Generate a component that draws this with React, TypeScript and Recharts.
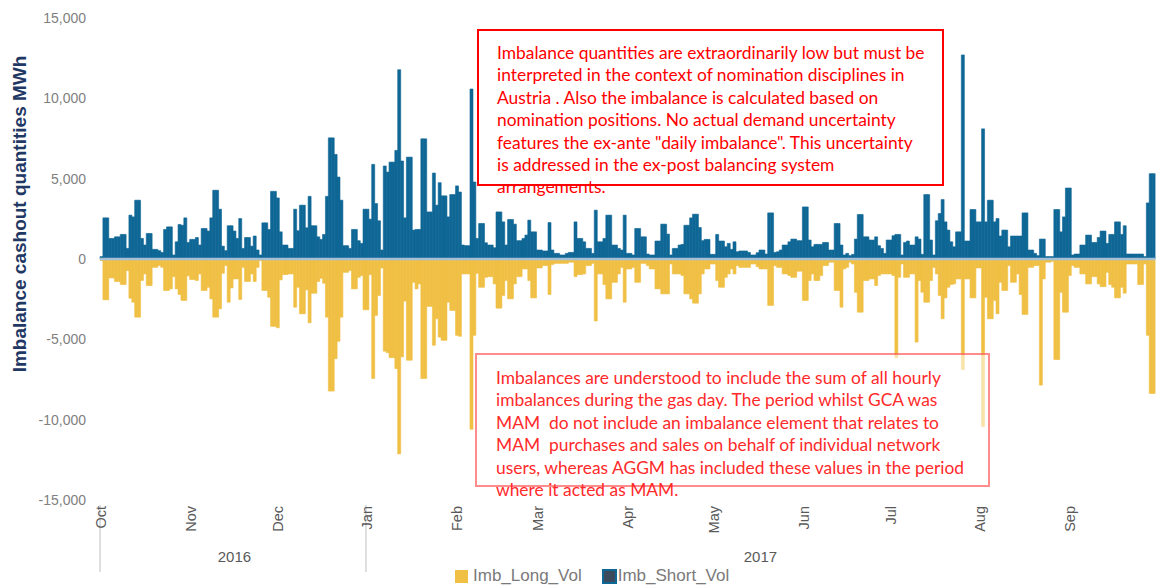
import React from "react";
import { BarChart, Bar, XAxis, YAxis, ReferenceLine } from "recharts";

// daily values, 1 Oct 2016 .. 30 Sep 2017 (MWh)
const SHORT_VOL = [
  // Oct
  150, 2560, 2560, 1280, 1280, 1380, 1380, 1530, 1530, 660, 2730, 2620, 3660, 3660, 1280, 870,
  1590, 1590, 600, 600, 520, 410, 1840, 2000, 2000, 250, 1070, 2150, 2100, 2560, 1030,
  // Nov
  1220, 1220, 1340, 870, 1900, 1900, 1740, 2560, 4280, 4280, 3100, 800, 520, 2070, 2070,
  1740, 1280, 2520, 660, 1340, 1340, 800, 1430, 560, 250, 2250, 2250, 1840, 4210, 4210,
  // Dec
  3800, 1690, 870, 870, 660, 660, 3100, 1760, 3350, 3350, 1940, 3900, 2070, 2070, 1380, 1220,
  1530, 3900, 7540, 7540, 6510, 5100, 3660, 830, 830, 660, 1840, 1840, 1140, 970, 3100,
  // Jan
  3100, 2480, 5890, 3450, 2380, 560, 5790, 5410, 6030, 6030, 6760, 11780, 6100, 2560, 6340, 6340,
  1800, 1840, 1840, 7480, 7480, 2930, 2930, 5350, 3350, 4750, 3930, 3930, 2620, 4010, 4010,
  // Feb
  4550, 4170, 870, 830, 830, 10580, 4790, 1280, 2210, 2210, 1010, 870, 870, 700,
  2930, 2930, 2310, 870, 2460, 2460, 2170, 1140, 1140, 1280, 1490, 2420, 1690, 1690,
  // Mar
  560, 560, 500, 500, 2270, 560, 350, 350, 250, 250, 350, 410, 410, 2310, 1280, 1280,
  1070, 660, 660, 350, 3040, 1070, 1070, 1280, 2730, 2730, 870, 870, 660, 560, 2730,
  // Apr
  350, 350, 250, 1900, 1900, 1380, 1380, 310, 250, 250, 1120, 1120, 2170, 2170, 1550,
  250, 660, 660, 870, 910, 2100, 2100, 2560, 2790, 2790, 1960, 1140, 1220, 1220, 290,
  // May
  290, 1530, 1120, 1120, 760, 970, 600, 1070, 450, 500, 500, 500, 410, 250, 250, 390,
  560, 560, 310, 2870, 2870, 410, 450, 560, 870, 870, 1070, 1240, 1240, 1140, 1140,
  // Jun
  3240, 3240, 1180, 760, 910, 910, 910, 1030, 1030, 560, 560, 2210, 2210, 870, 250,
  350, 210, 290, 1240, 2770, 2770, 1380, 1380, 1180, 1180, 1380, 830, 660, 350, 1180,
  // Jul
  1180, 1450, 1530, 1530, 250, 1030, 1120, 870, 870, 1380, 1240, 290, 4010, 4010, 1180, 250,
  2380, 2830, 3700, 2310, 1800, 1070, 760, 1690, 1690, 12700, 1120, 1120, 3080, 3080, 2310,
  // Aug
  2310, 8100, 2310, 3660, 3660, 2310, 2520, 1430, 1800, 1800, 760, 1430, 1430, 1430, 1430, 2870,
  2870, 560, 560, 350, 210, 1240, 1240, 150, 150, 150, 3080, 3080, 1690, 2620, 4420,
  // Sep
  4420, 250, 310, 310, 870, 870, 1490, 1490, 1030, 1030, 1340, 1740, 1740, 970, 1530,
  1530, 2310, 2310, 1530, 2070, 310, 310, 310, 310, 310, 310, 150, 3490, 5310, 5310,
];

const LONG_VOL = [
  // Oct
  -100, -2540, -2540, -1180, -1180, -1400, -1400, -1590, -1590, -720, -2440, -2690, -3620, -3620, -1340, -930,
  -1650, -1650, -520, -520, -410, -520, -1960, -1960, -1860, -1100, -1860, -2210, -2580, -2580, -1050,
  // Nov
  -1280, -1280, -1340, -930, -1960, -1960, -1760, -2480, -3620, -3620, -3100, -890, -410, -2690, -1800,
  -1240, -1240, -2520, -520, -1400, -1400, -930, -1400, -520, -100, -1960, -1960, -2380, -4190, -4190,
  // Dec
  -4280, -1300, -970, -970, -930, -930, -3000, -1760, -3410, -3410, -1920, -3970, -2130, -2130, -1400, -1200,
  -1510, -3620, -8220, -8220, -6200, -5120, -3620, -830, -830, -720, -1860, -1860, -1140, -1030, -3160,
  // Jan
  -3160, -970, -7440, -3510, -2270, -560, -5740, -5830, -6140, -6140, -6820, -12130, -6090, -2620, -6300, -6300,
  -1450, -1860, -1550, -7440, -7440, -2950, -2950, -5370, -3720, -4860, -5060, -5060, -2690, -3200, -3200,
  // Feb
  -4750, -4810, -930, -930, -930, -10600, -4750, -890, -1760, -1760, -1140, -1100, -1100, -1550,
  -3060, -3060, -2270, -1340, -2480, -2480, -1550, -1100, -1100, -620, -620, -1340, -2420, -2420,
  // Mar
  -560, -560, -410, -410, -2210, -350, -270, -270, -270, -270, -270, -200, -200, -1100, -970, -970,
  -930, -410, -410, -270, -3860, -930, -930, -1590, -2480, -2480, -1450, -1450, -930, -520, -2690,
  // Apr
  -620, -620, -520, -1450, -1450, -270, -270, -410, -620, -620, -1860, -1860, -2170, -2170, -2170,
  -310, -930, -930, -930, -1030, -2170, -2170, -2480, -2750, -2750, -2170, -930, -620, -620, -310,
  // May
  -310, -1340, -1760, -1760, -1140, -930, -620, -930, -410, -520, -520, -520, -520, -310, -310, -480,
  -620, -620, -620, -2890, -2890, -410, -520, -520, -930, -930, -1030, -1140, -1140, -760, -760,
  // Jun
  -2580, -2580, -1340, -930, -1340, -1340, -1030, -410, -410, -200, -200, -1960, -1960, -3000, -620,
  -520, -200, -310, -2070, -3310, -3310, -1340, -1340, -1240, -1240, -1650, -1030, -930, -930, -930,
  // Jul
  -930, -1030, -6140, -1140, -310, -1140, -1140, -930, -930, -5170, -1340, -2070, -2690, -2690, -1340, -520,
  -930, -2270, -3720, -2420, -1760, -1590, -1550, -1240, -1240, -6880, -1240, -1240, -2420, -2420, -560,
  // Aug
  -560, -10430, -2380, -3720, -3720, -2580, -3410, -1450, -1960, -1960, -410, -1450, -1450, -930, -2210, -3450,
  -3450, -520, -520, -410, -410, -7850, -1240, -200, -200, -140, -6260, -6260, -2070, -3310, -3310,
  // Sep
  -1030, -410, -520, -520, -930, -930, -1550, -1550, -1100, -1100, -1550, -1720, -1720, -830, -1590,
  -1760, -2420, -2420, -1760, -2130, -310, -310, -310, -310, -1590, -1590, -310, -4750, -8370, -8370,
];

const Y_TICKS = [-15000, -10000, -5000, 0, 5000, 10000, 15000];
const MONTH_NAMES = ["Jan", "Feb", "Mar", "Apr", "May", "Jun", "Jul", "Aug", "Sep", "Oct", "Nov", "Dec"];
const YEAR_SEPARATORS = ["2016-10-01", "2017-01-01"];
const YEAR_LABELS: Record<string, string> = { "2016-11-16": "2016", "2017-05-17": "2017" };

const NOTE_TOP = [
  "Imbalance quantities are extraordinarily low but must be",
  "interpreted in the context of nomination disciplines in",
  "Austria . Also the imbalance is calculated based on",
  "nomination positions. No actual demand uncertainty",
  "features the ex-ante \"daily imbalance\". This uncertainty",
  "is addressed in the ex-post balancing system",
  "arrangements.",
];
const NOTE_BOTTOM = [
  "Imbalances are understood to include the sum of all hourly",
  "imbalances during the gas day. The period whilst GCA was",
  "MAM  do not include an imbalance element that relates to",
  "MAM  purchases and sales on behalf of individual network",
  "users, whereas AGGM has included these values in the period",
  "where it acted as MAM.",
];

const LONG_COLOR = "#f0c045";
const SHORT_COLOR = "#0f6796";

const START = Date.UTC(2016, 9, 1);
const data = SHORT_VOL.map((s, i) => ({
  date: new Date(START + i * 86400000).toISOString().slice(0, 10),
  Imb_Long_Vol: LONG_VOL[i],
  Imb_Short_Vol: s,
}));

function DayTick({ x, y, payload }: any) {
  const v: string = payload.value;
  const [, mm, dd] = v.split("-");
  return (
    <g>
      {YEAR_SEPARATORS.includes(v) && (
        <line x1={x - 1.4} x2={x - 1.4} y1={y + 5} y2={y + 72} stroke="#bfbfbf" strokeWidth={1} />
      )}
      {dd === "01" && (
        <text
          x={x}
          y={y + 6}
          transform={`rotate(-90 ${x} ${y + 6})`}
          textAnchor="end"
          dominantBaseline="central"
          fontSize={14.5}
          fontFamily="Liberation Sans, Arial, sans-serif"
          fill="#595959"
        >
          {MONTH_NAMES[Number(mm) - 1]}
        </text>
      )}
      {YEAR_LABELS[v] && (
        <text x={x} y={y + 62} textAnchor="middle" fontSize={15} fontFamily="Liberation Sans, Arial, sans-serif" fill="#595959">
          {YEAR_LABELS[v]}
        </text>
      )}
    </g>
  );
}

function ValueTick({ y, payload }: any) {
  return (
    <text x={86} y={y} textAnchor="end" dominantBaseline="central" fontSize={14} fontFamily="Liberation Sans, Arial, sans-serif" fill="#7f7f7f">
      {Number(payload.value).toLocaleString("en-US")}
    </text>
  );
}

const noteText: React.CSSProperties = {
  position: "absolute",
  fontFamily: "Lato, sans-serif",
  fontSize: 17.4,
  lineHeight: "22.4px",
  whiteSpace: "pre",
};

export default function App() {
  return (
    <div style={{ position: "absolute", left: 0, top: 0, width: 1156, height: 587, background: "#fff", overflow: "hidden" }}>
      <BarChart
        width={1156}
        height={587}
        data={data}
        stackOffset="sign"
        barCategoryGap={0}
        barGap={0}
        margin={{ top: 18, right: 1, bottom: 27, left: 0 }}
      >
        <XAxis
          dataKey="date"
          interval={0}
          height={60}
          axisLine={false}
          tickLine={false}
          tickSize={0}
          tickMargin={0}
          tick={<DayTick />}
        />
        <YAxis
          domain={[-15000, 15000]}
          ticks={Y_TICKS}
          width={100}
          axisLine={false}
          tickLine={false}
          tick={<ValueTick />}
          label={{
            content: () => (
              <text
                x={19}
                y={214}
                transform="rotate(-90 19 214)"
                textAnchor="middle"
                dominantBaseline="central"
                fontSize={19}
                fontWeight="bold"
                fontFamily="Liberation Sans, Arial, sans-serif"
                fill="#1f3864"
              >
                Imbalance cashout quantities MWh
              </text>
            ),
          }}
        />
        <Bar dataKey="Imb_Long_Vol" stackId="imb" fill={LONG_COLOR} stroke={LONG_COLOR} strokeWidth={0.6} isAnimationActive={false} />
        <Bar dataKey="Imb_Short_Vol" stackId="imb" fill={SHORT_COLOR} stroke={SHORT_COLOR} strokeWidth={0.6} isAnimationActive={false} />
        <ReferenceLine y={0} stroke="#a3c0d6" strokeWidth={2.5} />
      </BarChart>

      {/* top note */}
      <div style={{ position: "absolute", left: 477, top: 29, width: 467, height: 157, border: "2px solid #ff0000", boxSizing: "border-box", background: "#fff" }} />
      <div style={{ ...noteText, left: 497, top: 42, color: "#ff0000" }}>{NOTE_TOP.join("\n")}</div>

      {/* bottom note */}
      <div style={{ position: "absolute", left: 475, top: 353, width: 515, height: 134, border: "2px solid rgba(255,0,0,0.45)", boxSizing: "border-box", background: "rgba(255,255,255,0.55)" }} />
      <div style={{ ...noteText, left: 496, top: 367, color: "#ff2a2a" }}>{NOTE_BOTTOM.join("\n")}</div>

      {/* legend */}
      <div style={{ position: "absolute", left: 455, top: 566, display: "flex", alignItems: "center", fontFamily: "Liberation Sans, Arial, sans-serif", fontSize: 17, color: "#7a7a7a" }}>
        <span style={{ width: 13, height: 13, background: LONG_COLOR, marginRight: 5 }} />
        <span style={{ marginRight: 20 }}>Imb_Long_Vol</span>
        <span style={{ width: 11, height: 11, background: "#3b4a5c", border: `2px solid ${SHORT_COLOR}`, marginRight: 1 }} />
        <span>Imb_Short_Vol</span>
      </div>
    </div>
  );
}
